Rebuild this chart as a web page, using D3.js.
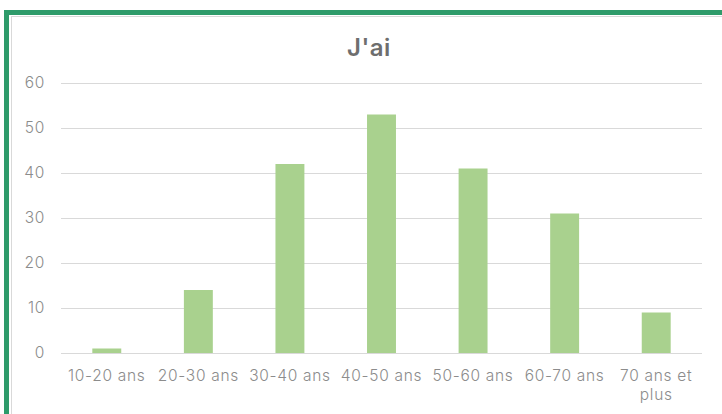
<!DOCTYPE html>
<html>
<head>
<meta charset="utf-8">
<script src="https://cdn.jsdelivr.net/npm/d3@7"></script>
<style>
  body { margin: 0; background: #fff; }
  svg { display: block; font-family: Inter, sans-serif; }
</style>
</head>
<body>
<div class="chart"></div>
<script>
// chart data
var categories = ["10-20 ans", "20-30 ans", "30-40 ans", "40-50 ans", "50-60 ans", "60-70 ans", "70 ans et plus"];
var values = [1, 14, 42, 53, 41, 31, 9];
var yTicks = [0, 10, 20, 30, 40, 50, 60];
var title = "J'ai";

var svgWidth = 722;
var svgHeight = 414;

var margin = { top: 83, right: 20, bottom: 61, left: 61 };
var width = 702 - margin.left;
var height = 353 - margin.top;

var svg = d3.select(".chart").append("svg")
  .attr("width", svgWidth)
  .attr("height", svgHeight);

// green frame + thin inner border
svg.append("rect")
  .attr("x", 6.5).attr("y", 12.5)
  .attr("width", svgWidth + 20).attr("height", svgHeight + 20)
  .attr("fill", "none").attr("stroke", "#2E9B6A").attr("stroke-width", 5);
svg.append("rect")
  .attr("x", 11.5).attr("y", 16.5)
  .attr("width", svgWidth + 20).attr("height", svgHeight + 20)
  .attr("fill", "none").attr("stroke", "#D9D9D9").attr("stroke-width", 1);

svg.append("text")
  .attr("x", 369).attr("y", 56)
  .attr("text-anchor", "middle")
  .attr("font-size", 24).attr("font-weight", 600)
  .attr("letter-spacing", 0.5)
  .attr("fill", "#6E6E6E")
  .text(title);

var chart = svg.append("g")
  .attr("transform", "translate(" + margin.left + "," + margin.top + ")");

var xScale = d3.scaleBand().domain(categories).range([0, width])
  .paddingInner(0.684).paddingOuter(0.342);
var yScale = d3.scaleLinear().domain([0, 60]).range([height, 0]);

// gridlines
chart.append("g")
  .selectAll("line")
  .data(yTicks)
  .enter().append("line")
  .attr("x1", 0).attr("x2", width)
  .attr("y1", function(d) { return Math.round(yScale(d)) + 0.5; })
  .attr("y2", function(d) { return Math.round(yScale(d)) + 0.5; })
  .attr("stroke", "#D9D9D9").attr("stroke-width", 1);

// bars
chart.append("g")
  .selectAll("rect")
  .data(values)
  .enter().append("rect")
  .attr("x", function(d, i) { return xScale(categories[i]); })
  .attr("width", xScale.bandwidth())
  .attr("y", function(d) { return yScale(d); })
  .attr("height", function(d) { return height - yScale(d); })
  .attr("fill", "#A9D18E");

// y axis labels
var leftAxis = d3.axisLeft(yScale).tickValues(yTicks).tickSize(0).tickPadding(16);
var yAxis = chart.append("g").call(leftAxis);
yAxis.select(".domain").remove();
yAxis.selectAll("text")
  .attr("font-size", 15.5).attr("font-weight", 300)
  .attr("letter-spacing", 0.7)
  .attr("font-family", "Inter, sans-serif")
  .attr("fill", "#8C8C8C");

// x axis labels, wrapping the last one
var bottomAxis = d3.axisBottom(xScale).tickSize(0).tickPadding(14).tickFormat("");
var xAxis = chart.append("g")
  .attr("transform", "translate(0," + height + ")")
  .call(bottomAxis);
xAxis.select(".domain").remove();
xAxis.selectAll(".tick").each(function(d) {
  var lines = d === "70 ans et plus" ? ["70 ans et", "plus"] : [d];
  var t = d3.select(this).append("text")
    .attr("text-anchor", "middle")
    .attr("font-size", 15.5).attr("font-weight", 300)
    .attr("letter-spacing", 0.7)
    .attr("font-family", "Inter, sans-serif")
    .attr("fill", "#8C8C8C");
  lines.forEach(function(l, i) {
    t.append("tspan").attr("x", 0).attr("y", 28 + i * 19).text(l);
  });
});
</script>
</body>
</html>
